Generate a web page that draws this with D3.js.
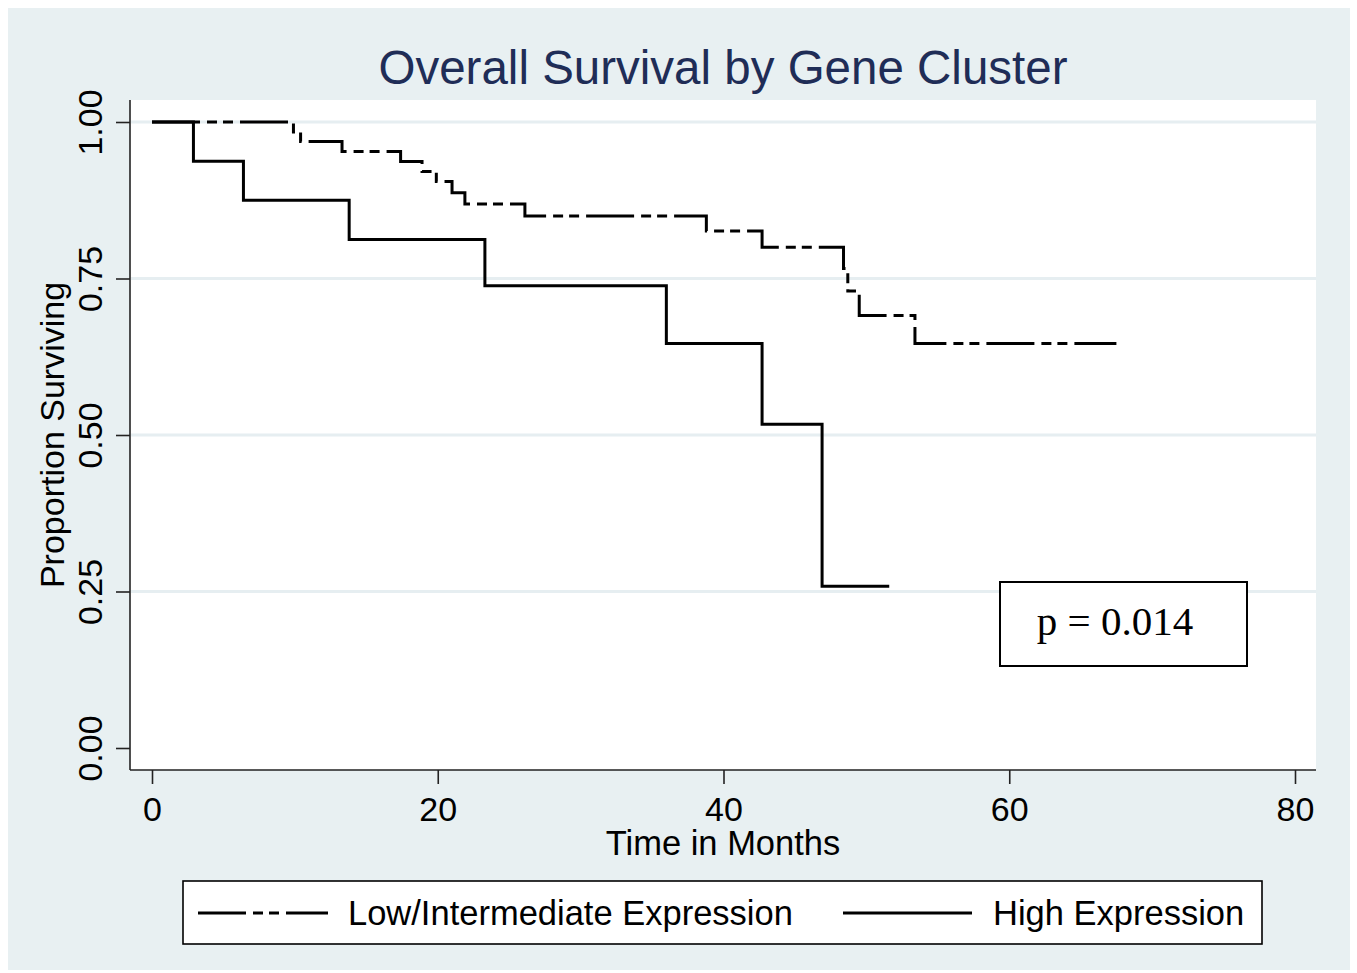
<!DOCTYPE html>
<html>
<head>
<meta charset="utf-8">
<script src="https://cdn.jsdelivr.net/npm/d3@7/dist/d3.min.js"></script>
<style>
  html, body { margin: 0; padding: 0; background: #ffffff; }
  svg { display: block; }
</style>
</head>
<body>
<svg id="chart" width="1357" height="973"></svg>
<script>
// ---- Data ----
const seriesNames = ["Low/Intermediate Expression", "High Expression"];

// Low/Intermediate Expression: step times (months) and survival after each step
const lowTimes    = [0, 9.9, 10.4, 13.3, 17.4, 18.9, 19.9, 21.0, 21.9, 26.1, 38.8, 42.7, 48.4, 48.7, 49.5, 53.4, 67.5];
const lowSurvival = [1.0, 0.984, 0.969, 0.953, 0.937, 0.921, 0.905, 0.887, 0.869, 0.850, 0.826, 0.800, 0.766, 0.730, 0.691, 0.646, 0.646];

// High Expression
const highTimes    = [0, 2.9, 6.4, 13.8, 23.3, 36.0, 42.7, 46.9, 51.6];
const highSurvival = [1.0, 0.9375, 0.875, 0.8125, 0.7386, 0.6463, 0.517, 0.2585, 0.2585];

const xTicks = [0, 20, 40, 60, 80];
const yTicks = [0, 0.25, 0.5, 0.75, 1.0];
const yTickLabels = ["0.00", "0.25", "0.50", "0.75", "1.00"];
const gridValues = [0.25, 0.5, 0.75, 1.0];

const titleText = "Overall Survival by Gene Cluster";
const xLabel = "Time in Months";
const yLabel = "Proportion Surviving";
const pText = "p = 0.014";

// ---- Layout ----
const W = 1357, H = 973;
const plot = { left: 130, right: 1316, top: 100, bottom: 770 };
const sans = "'Liberation Sans', Arial, Helvetica, sans-serif";
const serif = "'Liberation Serif', 'Times New Roman', serif";
const bgColor = "#e8f0f2";
const gridColor = "#e6eef1";
const dashLow = "48,7,10,6,10,7";

const svg = d3.select("#chart");

// outer background
svg.append("rect").attr("x", 0).attr("y", 0).attr("width", W).attr("height", H).attr("fill", "#ffffff");
svg.append("rect").attr("x", 8).attr("y", 8).attr("width", 1342).attr("height", 962).attr("fill", bgColor);

// plot region
svg.append("rect")
  .attr("x", plot.left).attr("y", plot.top)
  .attr("width", plot.right - plot.left).attr("height", plot.bottom - plot.top)
  .attr("fill", "#ffffff");

const x = d3.scaleLinear().domain([0, 80]).range([152, 1295]);
const y = d3.scaleLinear().domain([0, 1]).range([748, 122]);

// gridlines
svg.append("g").selectAll("line").data(gridValues).join("line")
  .attr("x1", plot.left + 1).attr("x2", plot.right)
  .attr("y1", d => y(d)).attr("y2", d => y(d))
  .attr("stroke", gridColor).attr("stroke-width", 3);

// axes lines
svg.append("line").attr("x1", plot.left).attr("x2", plot.left)
  .attr("y1", plot.top).attr("y2", plot.bottom)
  .attr("stroke", "#222").attr("stroke-width", 1.6);
svg.append("line").attr("x1", plot.left).attr("x2", plot.right)
  .attr("y1", plot.bottom).attr("y2", plot.bottom)
  .attr("stroke", "#222").attr("stroke-width", 1.6);

// x axis
const xAxis = svg.append("g")
  .attr("transform", `translate(0,${plot.bottom})`)
  .call(d3.axisBottom(x).tickValues(xTicks).tickFormat(d3.format("d")).tickSize(14).tickSizeOuter(0).tickPadding(12));
xAxis.select(".domain").remove();
xAxis.selectAll(".tick line").attr("stroke", "#222").attr("stroke-width", 1.6);
xAxis.selectAll(".tick text")
  .attr("font-family", sans).attr("font-size", 34).attr("fill", "#000")
  .attr("dy", null).attr("y", 51);

// y axis
const yAxis = svg.append("g")
  .attr("transform", `translate(${plot.left},0)`)
  .call(d3.axisLeft(y).tickValues(yTicks).tickFormat((d, i) => yTickLabels[i]).tickSize(14).tickSizeOuter(0));
yAxis.select(".domain").remove();
yAxis.selectAll(".tick line").attr("stroke", "#222").attr("stroke-width", 1.6);
yAxis.selectAll(".tick text")
  .attr("font-family", sans).attr("font-size", 34).attr("fill", "#000")
  .attr("x", null).attr("dy", null)
  .attr("text-anchor", "middle")
  .attr("transform", "translate(-28,0) rotate(-90)");

// curves
const line = d3.line().x(d => x(d[0])).y(d => y(d[1])).curve(d3.curveStepAfter);
const lowData = lowTimes.map((t, i) => [t, lowSurvival[i]]);
const highData = highTimes.map((t, i) => [t, highSurvival[i]]);

svg.append("path").datum(highData)
  .attr("d", line).attr("fill", "none")
  .attr("stroke", "#000").attr("stroke-width", 3).attr("stroke-linejoin", "miter");
svg.append("path").datum(lowData)
  .attr("d", line).attr("fill", "none")
  .attr("stroke", "#000").attr("stroke-width", 3)
  .attr("stroke-dasharray", dashLow);

// title
svg.append("text")
  .attr("x", (plot.left + plot.right) / 2).attr("y", 84)
  .attr("text-anchor", "middle")
  .attr("font-family", sans).attr("font-size", 47.5)
  .attr("fill", "#1f2d57")
  .text(titleText);

// axis titles
svg.append("text")
  .attr("x", 723).attr("y", 855)
  .attr("text-anchor", "middle")
  .attr("font-family", sans).attr("font-size", 34.5).attr("fill", "#000")
  .text(xLabel);

svg.append("text")
  .attr("transform", "translate(64,435) rotate(-90)")
  .attr("text-anchor", "middle")
  .attr("font-family", sans).attr("font-size", 34).attr("fill", "#000")
  .text(yLabel);

// p-value box
svg.append("rect")
  .attr("x", 1000).attr("y", 582).attr("width", 247).attr("height", 84)
  .attr("fill", "#ffffff").attr("stroke", "#000").attr("stroke-width", 2);
svg.append("text")
  .attr("x", 1115).attr("y", 635)
  .attr("text-anchor", "middle")
  .attr("font-family", serif).attr("font-size", 41).attr("fill", "#000")
  .text(pText);

// legend
svg.append("rect")
  .attr("x", 183).attr("y", 881).attr("width", 1079).attr("height", 63)
  .attr("fill", "#ffffff").attr("stroke", "#000").attr("stroke-width", 1.6);

const legendItems = [
  { name: seriesNames[0], x1: 198, x2: 328, tx: 348, dash: dashLow },
  { name: seriesNames[1], x1: 843, x2: 972, tx: 993, dash: null }
];
const lg = svg.append("g").selectAll("g").data(legendItems).join("g");
lg.append("line")
  .attr("x1", d => d.x1).attr("x2", d => d.x2)
  .attr("y1", 913).attr("y2", 913)
  .attr("stroke", "#000").attr("stroke-width", 3)
  .attr("stroke-dasharray", d => d.dash);
lg.append("text")
  .attr("x", d => d.tx).attr("y", 925)
  .attr("font-family", sans).attr("font-size", 34.5).attr("fill", "#000")
  .text(d => d.name);
</script>
</body>
</html>
